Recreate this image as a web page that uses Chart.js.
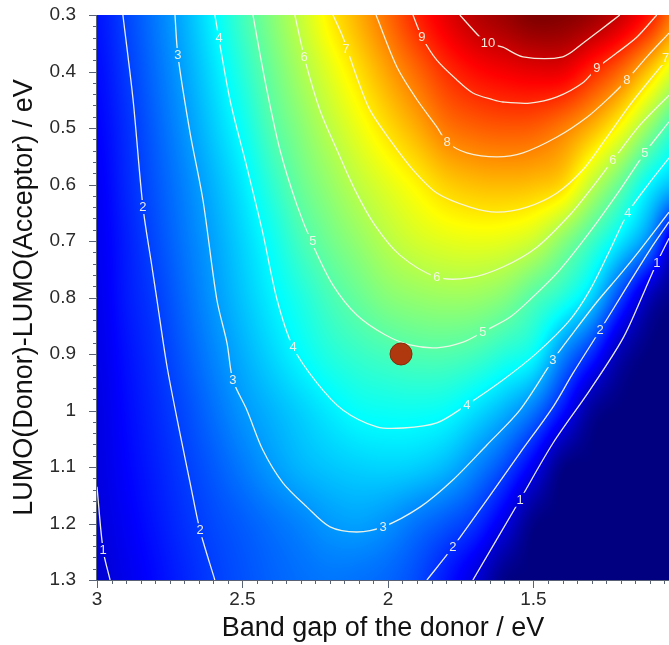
<!DOCTYPE html>
<html>
<head>
<meta charset="utf-8">
<script src="https://cdn.jsdelivr.net/npm/chart.js@4.4.1/dist/chart.umd.min.js"></script>
<style>
  html, body { margin: 0; padding: 0; background: #fff; overflow: hidden; }
  #wrap { width: 669px; height: 645px; position: relative; }
</style>
</head>
<body>
<div id="wrap"><canvas id="chart"></canvas></div>
<script>
// Grid axes (band gap of donor, LUMO offset), values = efficiency in %
const bandGaps = [3.0, 2.9, 2.8, 2.7, 2.6, 2.5, 2.4, 2.3, 2.2, 2.1, 2.0, 1.9, 1.8, 1.7, 1.6, 1.5, 1.4, 1.3, 1.2, 1.1, 1.0];
const lumoOffsets = [0.3, 0.4, 0.5, 0.6, 0.7, 0.8, 0.9, 1.0, 1.1, 1.2, 1.3];

const effRow030 = [1.55, 2.06, 2.62, 3.23, 3.96, 4.73, 5.44, 6.15, 6.92, 7.60, 8.32, 9.09, 9.71, 10.2, 10.5, 10.8, 10.75, 10.5, 10.0, 9.2, 8.0];
const effRow040 = [1.45, 1.95, 2.50, 3.08, 3.74, 4.45, 5.18, 5.83, 6.46, 7.09, 7.74, 8.36, 8.96, 9.35, 9.55, 9.68, 9.65, 9.05, 8.34, 7.31, 6.2];
const effRow050 = [1.35, 1.82, 2.36, 2.91, 3.51, 4.14, 4.90, 5.48, 6.04, 6.57, 7.11, 7.63, 8.19, 8.43, 8.53, 8.48, 8.14, 7.54, 6.70, 5.55, 4.48];
const effRow060 = [1.25, 1.75, 2.24, 2.73, 3.26, 3.83, 4.52, 5.16, 5.63, 6.08, 6.47, 6.85, 7.25, 7.44, 7.49, 7.42, 7.15, 6.10, 5.10, 3.96, 3.27];
const effRow070 = [1.20, 1.65, 2.12, 2.60, 3.08, 3.60, 4.15, 4.77, 5.24, 5.62, 6.00, 6.29, 6.46, 6.53, 6.47, 6.20, 5.51, 4.72, 3.80, 2.68, 0.50];
const effRow080 = [1.15, 1.60, 1.98, 2.46, 2.95, 3.43, 3.90, 4.35, 4.80, 5.15, 5.46, 5.62, 5.70, 5.67, 5.44, 4.92, 4.40, 3.56, 2.00, 0.60, 0.00];
const effRow090 = [1.10, 1.50, 1.86, 2.30, 2.76, 3.20, 3.62, 4.03, 4.40, 4.63, 4.79, 4.90, 4.91, 4.76, 4.43, 4.05, 2.82, 1.77, 0.50, 0.00, 0.00];
const effRow100 = [1.05, 1.42, 1.76, 2.12, 2.53, 2.94, 3.26, 3.56, 3.86, 4.10, 4.17, 4.18, 4.08, 3.72, 3.25, 2.60, 1.52, 0.30, 0.00, 0.00, 0.00];
const effRow110 = [1.03, 1.35, 1.66, 1.98, 2.30, 2.64, 2.98, 3.27, 3.45, 3.56, 3.60, 3.53, 3.29, 2.78, 2.13, 1.19, 0.10, 0.00, 0.00, 0.00, 0.00];
const effRow120 = [0.97, 1.25, 1.55, 1.85, 2.11, 2.32, 2.54, 2.75, 2.97, 3.05, 2.88, 2.56, 2.25, 1.85, 1.05, 0.10, 0.00, 0.00, 0.00, 0.00, 0.00];
const effRow130 = [0.88, 1.15, 1.43, 1.72, 1.99, 2.20, 2.38, 2.52, 2.60, 2.55, 2.42, 2.12, 1.58, 0.95, 0.10, 0.00, 0.00, 0.00, 0.00, 0.00, 0.00];
const effGrid = [effRow030, effRow040, effRow050, effRow060, effRow070, effRow080, effRow090, effRow100, effRow110, effRow120, effRow130];
const effMax = 10.8;

// Iso-efficiency lines [band gap, offset]
const contour1Left = [[3.000, 1.135], [2.979, 1.247], [2.955, 1.300]];
const contour1Right = [[1.708, 1.300], [1.546, 1.158], [1.433, 1.058], [1.306, 0.964], [1.192, 0.872], [1.117, 0.787], [1.076, 0.739], [1.034, 0.695]];
const contour2Left = [[2.911, 0.300], [2.876, 0.450], [2.842, 0.640], [2.811, 0.746], [2.794, 0.804], [2.759, 0.923], [2.715, 1.040], [2.680, 1.128], [2.646, 1.212], [2.595, 1.300]];
const contour2Right = [[1.866, 1.300], [1.777, 1.242], [1.660, 1.158], [1.546, 1.075], [1.433, 0.994], [1.364, 0.934], [1.271, 0.858], [1.186, 0.787], [1.100, 0.716], [1.034, 0.666]];
const contour3 = [[2.732, 0.300], [2.722, 0.371], [2.680, 0.509], [2.636, 0.627], [2.588, 0.804], [2.553, 0.881], [2.533, 0.946], [2.485, 0.999], [2.430, 1.070], [2.361, 1.128], [2.278, 1.171], [2.199, 1.206], [2.107, 1.215], [2.017, 1.206], [1.890, 1.171], [1.777, 1.123], [1.660, 1.061], [1.546, 0.999], [1.433, 0.911], [1.364, 0.863], [1.282, 0.808], [1.203, 0.760], [1.134, 0.716], [1.034, 0.649]];
const contour4 = [[2.595, 0.300], [2.543, 0.450], [2.485, 0.569], [2.430, 0.686], [2.381, 0.804], [2.326, 0.888], [2.244, 0.951], [2.155, 0.999], [2.038, 1.029], [1.948, 1.031], [1.832, 1.022], [1.729, 0.990], [1.605, 0.946], [1.488, 0.898], [1.375, 0.840], [1.306, 0.787], [1.237, 0.716], [1.175, 0.650], [1.107, 0.601], [1.034, 0.553]];
const contour5 = [[2.464, 0.300], [2.423, 0.415], [2.371, 0.539], [2.313, 0.636], [2.258, 0.707], [2.189, 0.778], [2.107, 0.831], [2.010, 0.866], [1.924, 0.884], [1.832, 0.889], [1.742, 0.879], [1.674, 0.861], [1.581, 0.835], [1.512, 0.804], [1.409, 0.751], [1.306, 0.684], [1.203, 0.610], [1.117, 0.544], [1.034, 0.489]];
const contour6 = [[2.320, 0.300], [2.285, 0.380], [2.234, 0.468], [2.175, 0.539], [2.113, 0.610], [2.045, 0.672], [1.959, 0.725], [1.832, 0.764], [1.718, 0.765], [1.605, 0.746], [1.488, 0.711], [1.375, 0.654], [1.299, 0.606], [1.227, 0.557], [1.134, 0.495], [1.034, 0.442]];
const contour7 = [[2.189, 0.300], [2.155, 0.339], [2.107, 0.410], [2.062, 0.468], [1.993, 0.521], [1.914, 0.574], [1.832, 0.615], [1.718, 0.640], [1.625, 0.649], [1.522, 0.640], [1.419, 0.615], [1.330, 0.574], [1.254, 0.521], [1.168, 0.459], [1.100, 0.415], [1.034, 0.374]];
const contour8 = [[2.041, 0.300], [1.969, 0.392], [1.900, 0.450], [1.832, 0.498], [1.797, 0.525], [1.729, 0.544], [1.625, 0.551], [1.536, 0.544], [1.419, 0.516], [1.316, 0.481], [1.237, 0.445], [1.179, 0.415], [1.110, 0.374], [1.034, 0.332]];
const contour9 = [[1.914, 0.300], [1.883, 0.339], [1.832, 0.380], [1.763, 0.415], [1.708, 0.438], [1.639, 0.450], [1.605, 0.454], [1.512, 0.456], [1.419, 0.445], [1.330, 0.420], [1.282, 0.394], [1.213, 0.367], [1.144, 0.339], [1.076, 0.300]];
const contour10 = [[1.753, 0.300], [1.684, 0.339], [1.656, 0.350], [1.605, 0.357], [1.536, 0.374], [1.399, 0.374], [1.330, 0.350], [1.271, 0.327], [1.203, 0.300]];

// Contour labels [text, band gap, offset]
const contourLabels = [
    ['10', 1.656, 0.350], ['9', 1.883, 0.339], ['9', 1.282, 0.394], ['8', 1.797, 0.525], ['8', 1.179, 0.415],
    ['7', 2.145, 0.360], ['7', 1.046, 0.376], ['6', 2.288, 0.374], ['6', 1.832, 0.764], ['6', 1.227, 0.557],
    ['5', 2.258, 0.700], ['5', 1.674, 0.861], ['5', 1.117, 0.544], ['4', 2.580, 0.340], ['4', 2.326, 0.888],
    ['4', 1.729, 0.990], ['4', 1.175, 0.650], ['3', 2.722, 0.371], ['3', 2.533, 0.946], ['3', 2.017, 1.206],
    ['3', 1.433, 0.911], ['2', 2.842, 0.640], ['2', 2.646, 1.212], ['2', 1.777, 1.242], ['2', 1.271, 0.858],
    ['1', 2.979, 1.247], ['1', 1.546, 1.158], ['1', 1.076, 0.739]
];

const markerPoint = [{ x: 1.955, y: 0.9 }];

const xMin = 1.034;
const xTickValues = [3, 2.5, 2, 1.5];
const xTickLabels = ['3', '2.5', '2', '1.5'];
const yTickValues = [0.3, 0.4, 0.5, 0.6, 0.7, 0.8, 0.9, 1.0, 1.1, 1.2, 1.3];
const yTickLabels = ['0.3', '0.4', '0.5', '0.6', '0.7', '0.8', '0.9', '1', '1.1', '1.2', '1.3'];

const FONT = "'Liberation Sans', Arial, Helvetica, sans-serif";

function jet(t) {
    const c = v => Math.max(0, Math.min(1, v));
    return [
        c(Math.min(4 * t - 1.5, -4 * t + 4.5)) * 255,
        c(Math.min(4 * t - 0.5, -4 * t + 3.5)) * 255,
        c(Math.min(4 * t + 0.5, -4 * t + 2.5)) * 255
    ];
}

function cubic(p0, p1, p2, p3, t) {
    return p1 + 0.5 * t * (p2 - p0 + t * (2 * p0 - 5 * p1 + 4 * p2 - p3 + t * (3 * (p1 - p2) + p3 - p0)));
}

function sampleGrid(gx, gy) {
    const nx = bandGaps.length, ny = lumoOffsets.length;
    const fi = (bandGaps[0] - gx) / (bandGaps[0] - bandGaps[1]);
    const fj = (gy - lumoOffsets[0]) / (lumoOffsets[1] - lumoOffsets[0]);
    const i = Math.floor(fi), j = Math.floor(fj);
    const tx = fi - i, ty = fj - j;
    const ci = k => Math.max(0, Math.min(nx - 1, k));
    const cj = k => Math.max(0, Math.min(ny - 1, k));
    const col = [];
    for (let m = -1; m <= 2; m++) {
        const r = effGrid[cj(j + m)];
        col.push(cubic(r[ci(i - 1)], r[ci(i)], r[ci(i + 1)], r[ci(i + 2)], tx));
    }
    return cubic(col[0], col[1], col[2], col[3], ty);
}

function labelBoxes(chart) {
    const {ctx, scales: {x, y}} = chart;
    ctx.font = '13px ' + FONT;
    return contourLabels.map(([t, gx, gy]) => {
        const w = ctx.measureText(t).width + 5;
        return {t, px: x.getPixelForValue(gx), py: y.getPixelForValue(gy), w, h: 14};
    });
}

const heatmapPlugin = {
    id: 'heatmap',
    beforeDatasetsDraw(chart) {
        const {ctx, chartArea: a, scales: {x, y}} = chart;
        const w = Math.round(a.right - a.left), h = Math.round(a.bottom - a.top);
        const off = document.createElement('canvas');
        off.width = w; off.height = h;
        const octx = off.getContext('2d');
        const img = octx.createImageData(w, h);
        const gxs = [];
        for (let i = 0; i < w; i++) gxs.push(x.getValueForPixel(a.left + i + 0.5));
        for (let j = 0; j < h; j++) {
            const gy = y.getValueForPixel(a.top + j + 0.5);
            for (let i = 0; i < w; i++) {
                let v = sampleGrid(gxs[i], gy);
                v = Math.max(0, Math.min(effMax, v));
                const [r, g, b] = jet(v / effMax);
                const k = (j * w + i) * 4;
                img.data[k] = r; img.data[k + 1] = g; img.data[k + 2] = b; img.data[k + 3] = 255;
            }
        }
        octx.putImageData(img, 0, 0);
        ctx.drawImage(off, a.left, a.top);

        // cut gaps in the contour lines where the labels sit
        ctx.save();
        ctx.beginPath();
        ctx.rect(a.left, a.top, a.right - a.left, a.bottom - a.top);
        for (const b of labelBoxes(chart)) ctx.rect(b.px - b.w / 2, b.py - b.h / 2, b.w, b.h);
        ctx.clip('evenodd');
    },
    afterDatasetsDraw(chart) {
        const {ctx, chartArea: a} = chart;
        ctx.restore();
        ctx.save();
        ctx.beginPath();
        ctx.rect(a.left, a.top, a.right - a.left, a.bottom - a.top);
        ctx.clip();
        ctx.fillStyle = 'rgba(245,245,232,0.95)';
        ctx.textAlign = 'center';
        ctx.textBaseline = 'middle';
        for (const b of labelBoxes(chart)) ctx.fillText(b.t, b.px, b.py + 0.5);
        ctx.restore();
    },
    afterDraw(chart) {
        const {ctx, chartArea: a, scales: {x, y}} = chart;
        ctx.save();
        ctx.strokeStyle = '#5a6275';
        ctx.lineWidth = 1;
        ctx.beginPath();
        for (let k = 0; k < 40; k++) {
            const v = 3 - k * 0.05;
            if (v < x.min) break;
            const px = Math.round(x.getPixelForValue(v)) + 0.5;
            ctx.moveTo(px, a.bottom);
            ctx.lineTo(px, a.bottom + (k % 10 === 0 ? 8 : 4));
        }
        for (let k = 0; k <= 50; k++) {
            const v = 0.3 + k * 0.02;
            const py = Math.round(y.getPixelForValue(v)) + 0.5;
            ctx.moveTo(a.left, py);
            ctx.lineTo(a.left - (k % 5 === 0 ? 8 : 4), py);
        }
        ctx.moveTo(a.left, a.bottom + 0.5);
        ctx.lineTo(a.right, a.bottom + 0.5);
        ctx.moveTo(a.left - 0.5, a.top);
        ctx.lineTo(a.left - 0.5, a.bottom);
        ctx.stroke();

        // band gap tick labels
        ctx.fillStyle = '#2a2a2a';
        ctx.font = '19px ' + FONT;
        ctx.textAlign = 'center';
        ctx.textBaseline = 'middle';
        xTickValues.forEach((v, i) => ctx.fillText(xTickLabels[i], x.getPixelForValue(v), a.bottom + 20));
        ctx.restore();
    }
};

const contourLines = [contour1Left, contour1Right, contour2Left, contour2Right, contour3, contour4,
    contour5, contour6, contour7, contour8, contour9, contour10];

const datasets = [{
    data: markerPoint,
    pointRadius: 11,
    pointHoverRadius: 11,
    backgroundColor: '#b0380f',
    borderColor: '#8a2a0a',
    borderWidth: 1,
    showLine: false
}];
for (const line of contourLines) {
    datasets.push({
        data: line.map(([gx, gy]) => ({x: gx, y: gy})),
        showLine: true,
        pointRadius: 0,
        borderColor: 'rgba(245,245,230,0.95)',
        borderWidth: 1.3,
        tension: 0.3,
        fill: false
    });
}

new Chart(document.getElementById('chart'), {
    type: 'scatter',
    data: {datasets},
    plugins: [heatmapPlugin],
    options: {
        responsive: true,
        maintainAspectRatio: false,
        animation: false,
        layout: {autoPadding: false, padding: {top: 15, right: 0, bottom: 0, left: 0}},
        plugins: {
            legend: {display: false},
            tooltip: {enabled: false}
        },
        scales: {
            x: {
                type: 'linear',
                reverse: true,
                min: xMin,
                max: 3,
                afterBuildTicks: s => { s.ticks = xTickValues.map(v => ({value: v})); },
                afterFit: s => { s.height = 65; s.paddingLeft = 0; s.paddingRight = 0; },
                grid: {display: false},
                border: {display: false},
                ticks: {display: false},
                title: {
                    display: true,
                    text: 'Band gap of the donor / eV',
                    color: '#111',
                    font: {family: FONT, size: 27},
                    padding: 0
                }
            },
            y: {
                type: 'linear',
                reverse: true,
                min: 0.3,
                max: 1.3,
                afterBuildTicks: s => { s.ticks = yTickValues.map(v => ({value: v})); },
                afterFit: s => { s.width = 97; s.paddingTop = 0; s.paddingBottom = 0; },
                grid: {display: false},
                border: {display: false},
                ticks: {
                    color: '#2a2a2a',
                    font: {family: FONT, size: 19},
                    padding: 13,
                    autoSkip: false,
                    callback: (v, i) => yTickLabels[i]
                },
                title: {
                    display: true,
                    text: 'LUMO(Donor)-LUMO(Acceptor) / eV',
                    color: '#111',
                    font: {family: FONT, size: 27},
                    padding: {top: 8, bottom: 0}
                }
            }
        }
    }
});
</script>
</body>
</html>
